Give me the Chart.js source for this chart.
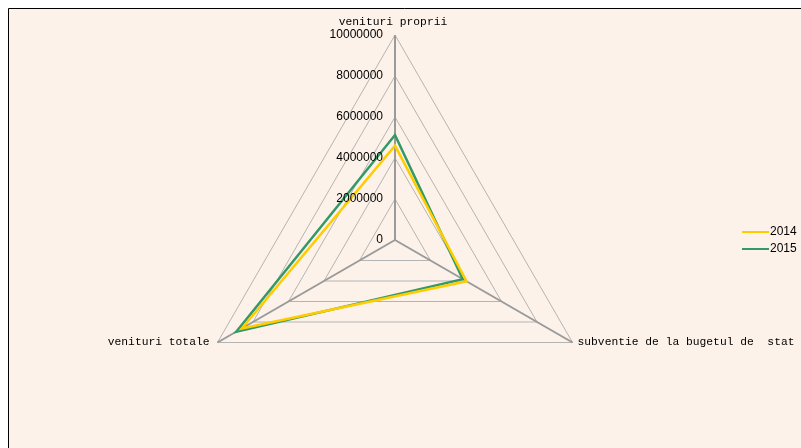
<!DOCTYPE html>
<html>
<head>
<meta charset="utf-8">
<script src="https://cdn.jsdelivr.net/npm/chart.js@4/dist/chart.umd.min.js"></script>
<style>
  html, body { margin: 0; padding: 0; background: #ffffff; }
  #wrap { position: absolute; left: 0; top: 0; width: 801px; height: 448px; }
</style>
</head>
<body>
<div id="wrap"><canvas id="myChart" width="801" height="448"></canvas></div>
<script>
const categories = ['venituri proprii', 'subventie de la bugetul de  stat', 'venituri totale']
const seriesNames = ['2014', '2015']
const values2014 = [4600000, 4030000, 8630000]
const values2015 = [5120000, 3820000, 8940000]

const colors = {
  yellow: '#ffcc00',
  green: '#339966',
  bg: '#fdf2e9',
  grid: '#b4b4b4',
  angle: '#9a9a9a'
}

// frame + peach background
const backgroundPlugin = {
  id: 'background',
  beforeDraw(chart) {
    const ctx = chart.ctx
    ctx.save()
    ctx.fillStyle = '#ffffff'
    ctx.fillRect(0, 0, chart.width, chart.height)
    ctx.fillStyle = colors.bg
    ctx.fillRect(8, 8, chart.width, chart.height)
    ctx.strokeStyle = '#000000'
    ctx.lineWidth = 1
    ctx.beginPath()
    ctx.moveTo(8.5, chart.height)
    ctx.lineTo(8.5, 8.5)
    ctx.lineTo(chart.width, 8.5)
    ctx.stroke()
    ctx.restore()
  }
}

// tick numbers right of nothing, left of the vertical axis, plus point labels
const labelsPlugin = {
  id: 'labels',
  afterDraw(chart) {
    const scale = chart.scales.r
    const ctx = chart.ctx
    ctx.save()
    ctx.fillStyle = '#000000'
    ctx.font = '12px "Liberation Sans", Arial, sans-serif'
    ctx.textAlign = 'right'
    ctx.textBaseline = 'middle'
    scale.ticks.forEach(t => {
      const d = scale.getDistanceFromCenterForValue(t.value)
      ctx.fillText(String(t.value), scale.xCenter - 12, scale.yCenter - d)
    })

    ctx.font = '11.3px "Liberation Mono", "DejaVu Sans Mono", monospace'
    categories.forEach((label, i) => {
      const p = scale.getPointPosition(i, scale.drawingArea)
      if (i === 0) {
        ctx.textAlign = 'center'
        ctx.fillText(label, p.x - 2, p.y - 13)
      } else if (p.x > scale.xCenter) {
        ctx.textAlign = 'left'
        ctx.fillText(label, p.x + 5, p.y)
      } else {
        ctx.textAlign = 'right'
        ctx.fillText(label, p.x - 8, p.y)
      }
    })

    // legend
    ctx.font = '12px "Liberation Sans", Arial, sans-serif'
    ctx.textAlign = 'left'
    chart.data.datasets.forEach((ds, i) => {
      const y = 232 + i * 17
      ctx.strokeStyle = ds.borderColor
      ctx.lineWidth = 2
      ctx.beginPath()
      ctx.moveTo(742, y)
      ctx.lineTo(769, y)
      ctx.stroke()
      ctx.fillText(ds.label, 770, y)
    })
    ctx.restore()
  }
}

const ctx = document.getElementById('myChart').getContext('2d')

const data = {
  labels: categories,
  datasets: [
    {
      label: seriesNames[0],
      data: values2014,
      borderColor: colors.yellow,
      borderWidth: 2.5,
      fill: false,
      pointRadius: 0,
      tension: 0
    },
    {
      label: seriesNames[1],
      data: values2015,
      borderColor: colors.green,
      borderWidth: 2.5,
      fill: false,
      pointRadius: 0,
      tension: 0
    }
  ]
}

const config = {
  type: 'radar',
  data: data,
  options: {
    responsive: false,
    animation: false,
    layout: {
      padding: { left: 190, right: 201, top: 35, bottom: 3 }
    },
    plugins: {
      legend: { display: false },
      tooltip: { enabled: false }
    },
    scales: {
      r: {
        min: 0,
        max: 10000000,
        ticks: { stepSize: 2000000, display: false },
        pointLabels: { display: false },
        grid: { color: colors.grid, lineWidth: 1 },
        angleLines: { color: colors.angle, lineWidth: 2 }
      }
    }
  },
  plugins: [backgroundPlugin, labelsPlugin]
}

const myChart = new Chart(ctx, config)
</script>
</body>
</html>
